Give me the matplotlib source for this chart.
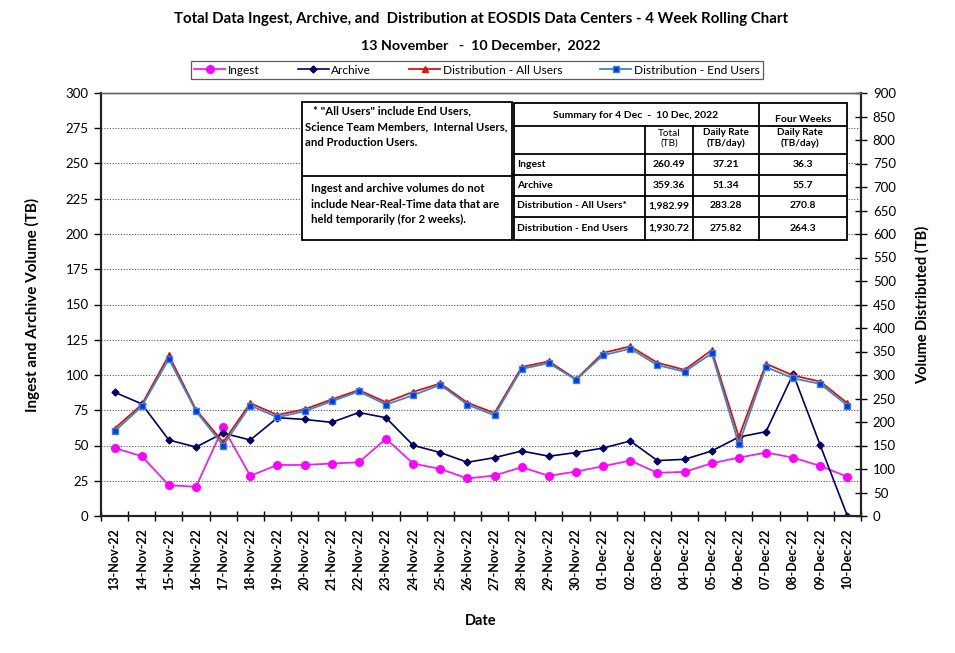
import numpy as np
import matplotlib
matplotlib.use('Agg')
import matplotlib.pyplot as plt
from matplotlib.patches import Rectangle

plt.rcParams['font.family'] = ['Lato', 'DejaVu Sans']

# Daily values
dates = ['13-Nov-22', '14-Nov-22', '15-Nov-22', '16-Nov-22', '17-Nov-22', '18-Nov-22',
         '19-Nov-22', '20-Nov-22', '21-Nov-22', '22-Nov-22', '23-Nov-22', '24-Nov-22',
         '25-Nov-22', '26-Nov-22', '27-Nov-22', '28-Nov-22', '29-Nov-22', '30-Nov-22',
         '01-Dec-22', '02-Dec-22', '03-Dec-22', '04-Dec-22', '05-Dec-22', '06-Dec-22',
         '07-Dec-22', '08-Dec-22', '09-Dec-22', '10-Dec-22']
ingest = [48.2, 42.4, 21.9, 20.7, 62.8, 28.5, 36.2, 36.2, 37.2, 38.1, 54.8, 37.2, 33.4, 26.6,
          28.7, 34.6, 28.5, 31.5, 35.3, 39.3, 30.6, 31.3, 37.4, 41.4, 45.0, 41.4, 35.5, 27.8]
archive = [87.8, 79.5, 53.9, 48.9, 58.8, 53.9, 69.7, 68.5, 66.4, 73.4, 69.7, 50.1, 45.0, 38.1,
           41.4, 46.1, 42.4, 45.0, 48.2, 53.2, 39.3, 40.2, 46.1, 56.0, 59.8, 100.7, 50.1, 0]
dist_all = [186, 237, 342, 226, 157, 240, 215, 227, 248, 268, 242, 264, 282, 241,
            219, 317, 329, 291, 347, 361, 326, 311, 353, 168, 324, 299, 286, 240]
dist_end = [180, 233, 334, 223, 150, 235, 210, 223, 244, 265, 237, 257, 279, 237,
            214, 313, 325, 290, 342, 356, 321, 307, 346, 153, 317, 293, 281, 235]

# summary table contents
summary_title = 'Summary for 4 Dec  -  10 Dec, 2022'
row_names = ['Ingest', 'Archive', 'Distribution - All Users*', 'Distribution - End Users']
totals = ['260.49', '359.36', '1,982.99', '1,930.72']
daily = ['37.21', '51.34', '283.28', '275.82']
four_week = ['36.3', '55.7', '270.8', '264.3']

W, H = 955, 653
fig = plt.figure(figsize=(W / 100, H / 100), dpi=100)
ax = fig.add_axes([101 / W, 1 - 516 / H, 760 / W, 423 / H])
ax2 = ax.twinx()

x = np.arange(len(dates))
l1, = ax.plot(x, ingest, color='#ee22ee', lw=1.3, marker='o', ms=5.5, mfc='#ff00ff',
              mec='#ff00ff', zorder=4)
l2, = ax.plot(x, archive, color='#000066', lw=1.2, marker='D', ms=3.5, zorder=5)
l3, = ax2.plot(x, dist_all, color='#dd1111', lw=1.3, marker='^', ms=4.5, zorder=3)
l4, = ax2.plot(x, dist_end, color='#3a88c8', lw=1.3, marker='s', ms=5, mfc='#0033ff',
               mec='#3a88c8', zorder=4)

ax.set_xlim(-0.5, len(dates) - 0.5)
ax.set_ylim(0, 300)
ax2.set_ylim(0, 900)
ax.set_yticks(np.arange(0, 301, 25))
ax2.set_yticks(np.arange(0, 901, 50))
ax.set_xticks(x)
ax.set_xticklabels(dates, rotation=90, fontweight='bold', fontsize=9)
ax.set_xticks(np.arange(-0.5, len(dates), 1), minor=True)
ax.tick_params(axis='x', which='major', length=0, pad=9)
ax.tick_params(axis='x', which='minor', direction='inout', length=7, width=1)
ax.tick_params(axis='y', direction='out', length=5, width=1, labelsize=9.5, pad=4)
ax2.tick_params(axis='y', direction='inout', length=9, width=1, labelsize=9.5, pad=4)
ax.yaxis.grid(True, linestyle=(0, (1, 1.5)), color='#555555', lw=0.8)
ax.set_axisbelow(True)

for a in (ax, ax2):
    for s in ('left', 'right', 'bottom'):
        a.spines[s].set_linewidth(1.5)
        a.spines[s].set_color('#222222')
    a.spines['top'].set_color('#666666')
    a.spines['top'].set_linewidth(1.0)

ax.set_ylabel('Ingest and Archive Volume (TB)', fontweight='bold', fontsize=11, labelpad=18)
ax2.set_ylabel('Volume Distributed (TB)', fontweight='bold', fontsize=10.5, labelpad=14)
ax.set_xlabel('Date', fontweight='bold', fontsize=10.5, labelpad=17)

fig.text(481 / W, 1 - 19 / H,
         'Total Data Ingest, Archive, and  Distribution at EOSDIS Data Centers - 4 Week Rolling Chart',
         ha='center', va='center', fontweight='bold', fontsize=10.8)
fig.text(481 / W, 1 - 45 / H, '13 November   -  10 December,  2022',
         ha='center', va='center', fontweight='bold', fontsize=10.3)

leg = fig.legend([l1, l2, l3, l4],
                 ['Ingest', 'Archive', 'Distribution - All Users', 'Distribution - End Users'],
                 loc='center', bbox_to_anchor=(477 / W, 1 - 70 / H), ncol=4, fontsize=8.6,
                 frameon=True, fancybox=False, edgecolor='#333333', handlelength=2.6,
                 columnspacing=3.2, borderpad=0.3, handletextpad=0.2)
leg.get_frame().set_linewidth(0.9)

# overlay in pixel coordinates for the note boxes and summary table
ov = fig.add_axes([0, 0, 1, 1], zorder=10)
ov.set_xlim(0, W)
ov.set_ylim(H, 0)
ov.axis('off')
ov.patch.set_alpha(0)

lw = 1.3
nfs = 8.2
ov.add_patch(Rectangle((302, 102), 210, 138, fc='white', ec='black', lw=lw))
ov.plot([302, 512], [176, 176], color='black', lw=lw)
ov.text(313, 111, '* "All Users" include End Users,', fontsize=nfs, fontweight='bold',
        va='center')
ov.text(305, 127, 'Science Team Members,  Internal Users,', fontsize=nfs, fontweight='bold',
        va='center')
ov.text(305, 142, 'and Production Users.', fontsize=nfs, fontweight='bold', va='center')
ov.text(311, 189, 'Ingest and archive volumes do not', fontsize=nfs, fontweight='bold',
        va='center')
ov.text(311, 204, 'include Near-Real-Time data that are', fontsize=nfs, fontweight='bold',
        va='center')
ov.text(311, 219, 'held temporarily (for 2 weeks).', fontsize=nfs, fontweight='bold',
        va='center')

ov.add_patch(Rectangle((514, 103), 333, 137, fc='white', ec='black', lw=lw))
for yy in (126, 154, 175, 196, 217):
    ov.plot([514, 847], [yy, yy], color='black', lw=lw)
for xx, y0 in ((645, 126), (693, 126), (759, 103)):
    ov.plot([xx, xx], [y0, 240], color='black', lw=lw)

fs = 7.5
ov.text(636, 115, summary_title, ha='center', va='center', fontsize=fs, fontweight='bold')
ov.text(803, 119, 'Four Weeks', ha='center', va='center', fontsize=fs, fontweight='bold')
ov.text(669, 138, 'Total\n(TB)', ha='center', va='center', fontsize=fs - 0.3,
        linespacing=1.1)
ov.text(726, 138, 'Daily Rate\n(TB/day)', ha='center', va='center', fontsize=fs - 0.3,
        fontweight='bold', linespacing=1.1)
ov.text(800, 138, 'Daily Rate\n(TB/day)', ha='center', va='center', fontsize=fs - 0.3,
        fontweight='bold', linespacing=1.1)
row_y = [164.5, 186, 206, 228.5]
for i in range(4):
    ov.text(517, row_y[i], row_names[i], ha='left', va='center', fontsize=fs,
            fontweight='bold')
    ov.text(669, row_y[i], totals[i], ha='center', va='center', fontsize=fs,
            fontweight='bold')
    ov.text(726, row_y[i], daily[i], ha='center', va='center', fontsize=fs, fontweight='bold')
    ov.text(803, row_y[i], four_week[i], ha='center', va='center', fontsize=fs,
            fontweight='bold')

fig.savefig('out.png', dpi=100)
